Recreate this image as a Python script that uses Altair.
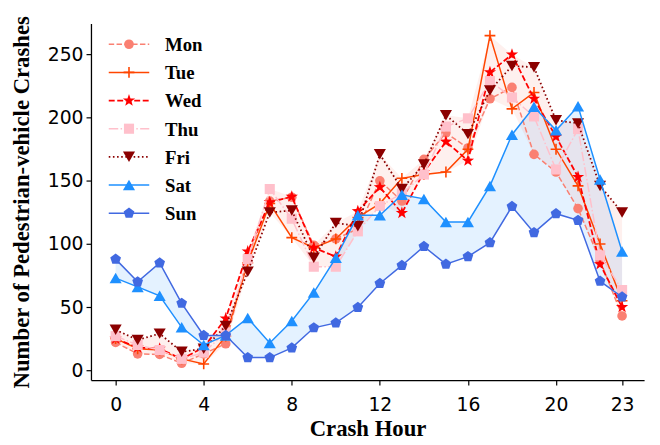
import math
import altair as alt
import pandas as pd

hours = list(range(24))
days = ["Mon", "Tue", "Wed", "Thu", "Fri", "Sat", "Sun"]

mon = [22, 13, 12.5, 5.5, 13, 21, 90, 134, 137, 99, 104, 112, 150, 134, 167, 188, 176, 215, 224, 171, 157, 128, 87, 43]
tue = [25, 17, 16, 9, 5, 27, 85, 132, 105, 97, 104, 121, 132, 152, 155, 157, 175, 265, 207, 220, 175, 146, 100, 55]
wed = [25, 18, 17, 9, 18, 41, 94, 133, 137.5, 97, 90, 126, 145, 124.5, 157, 181, 166, 236, 250, 215, 185, 153, 84, 50]
thu = [27, 20, 16, 9, 14, 30, 88, 143.5, 120, 82, 82, 110, 130, 140, 155, 193, 199.5, 229, 216, 201, 159, 191, 91, 63.5]
fri = [32, 24, 29, 14.6, 17, 35, 78, 125, 126.5, 89, 116.7, 114, 171, 143.5, 163, 202, 187, 221.6, 241, 240, 198, 195.5, 146, 125]
sat = [73, 66, 59, 34, 20, 27.6, 41.4, 21.6, 39, 61.5, 89, 122.7, 122.7, 139, 135.7, 117.4, 117.4, 146, 186.5, 208.6, 190, 209, 151, 94]
sun = [88, 70, 85, 53, 27.6, 27.6, 10, 10, 17.7, 33.6, 37.5, 49.7, 68.7, 83, 98, 84, 90, 101, 129.7, 109, 124, 118.7, 70.5, 58]

x_ticks = [0, 4, 8, 12, 16, 20, 23]
y_ticks = [0, 50, 100, 150, 200, 250]

series = [mon, tue, wed, thu, fri, sat, sun]
colors = ["#FA8072", "#FF4500", "#FF0000", "#FFC0CB", "#8B0000", "#1E90FF", "#4169E1"]


def polygon(n, r_in=None):
    pts = []
    steps = n * 2 if r_in else n
    for k in range(steps):
        r = 1.0 if (k % 2 == 0 or not r_in) else r_in
        a = math.radians(-90 + 360.0 / steps * k)
        pts.append(f"{r * math.cos(a):.3f},{r * math.sin(a):.3f}")
    return "M" + "L".join(pts) + "Z"


star = polygon(5, 0.4)
pentagon = polygon(5)
plus = "M-1,0L1,0M0,-1L0,1"

styles = {
    "Mon": dict(dash=[5.5, 2.4], lw=1.5, shape="circle", size=95, filled=True),
    "Tue": dict(dash=None, lw=1.5, shape=plus, size=120, filled=False),
    "Wed": dict(dash=[6, 2.6], lw=1.8, shape=star, size=170, filled=True),
    "Thu": dict(dash=[9.6, 2.4, 1.5, 2.4], lw=1.5, shape="square", size=105, filled=True),
    "Fri": dict(dash=[1.6, 2.6], lw=1.8, shape="triangle-down", size=150, filled=True),
    "Sat": dict(dash=None, lw=1.5, shape="triangle-up", size=150, filled=True),
    "Sun": dict(dash=None, lw=1.5, shape=pentagon, size=130, filled=True),
}

xs = alt.Scale(domain=[-1.12, 24.0], nice=False, zero=False)
ys = alt.Scale(domain=[-7.8, 274.6], nice=False, zero=False)
xaxis = alt.Axis(values=x_ticks, title="Crash Hour", grid=False, tickSize=5,
                 labelPadding=11, titlePadding=3)
yaxis = alt.Axis(values=y_ticks, title="Number of Pedestrian-vehicle Crashes", grid=False,
                 tickSize=5, labelPadding=3, titlePadding=14)
X = alt.X("h:Q", scale=xs, axis=xaxis)
Y = alt.Y("v:Q", scale=ys, axis=yaxis)

layers = []

weekday = list(zip(mon, tue, wed, thu, fri))
pink_df = pd.DataFrame({"h": hours, "lo": [min(r) for r in weekday], "hi": [max(r) for r in weekday]})
blue_df = pd.DataFrame({"h": hours, "lo": sat, "hi": sun})

layers.append(alt.Chart(blue_df).mark_area(color="#1E90FF", opacity=0.12).encode(
    x=alt.X("h:Q", scale=xs, axis=xaxis), y=alt.Y("lo:Q", scale=ys, axis=yaxis), y2="hi:Q"))
layers.append(alt.Chart(pink_df).mark_area(color="#FA8072", opacity=0.12).encode(
    x=alt.X("h:Q", scale=xs, axis=xaxis), y=alt.Y("lo:Q", scale=ys, axis=yaxis), y2="hi:Q"))

for d, vals, c in zip(days, series, colors):
    s = styles[d]
    df = pd.DataFrame({"h": hours, "v": vals})
    lk = dict(color=c, strokeWidth=s["lw"])
    if s["dash"]:
        lk["strokeDash"] = s["dash"]
    layers.append(alt.Chart(df).mark_line(**lk).encode(x=X, y=Y))
    pk = dict(shape=s["shape"], size=s["size"], opacity=1)
    if s["filled"]:
        pk.update(filled=True, color=c, strokeWidth=0)
    else:
        pk.update(filled=False, color=c, strokeWidth=1.6)
    layers.append(alt.Chart(df).mark_point(**pk).encode(x=X, y=Y))

# legend (top-left, inside plot)
for i, (d, c) in enumerate(zip(days, colors)):
    s = styles[d]
    ry = 21 + 28.5 * i
    ldf = pd.DataFrame({"day": [d]})
    lk = dict(color=c, strokeWidth=s["lw"])
    if s["dash"]:
        lk["strokeDash"] = s["dash"]
    layers.append(alt.Chart(ldf).mark_rule(**lk).encode(
        x=alt.value(18), x2=alt.value(59), y=alt.value(ry)))
    pk = dict(shape=s["shape"], size=s["size"], opacity=1)
    if s["filled"]:
        pk.update(filled=True, color=c, strokeWidth=0)
    else:
        pk.update(filled=False, color=c, strokeWidth=1.6)
    layers.append(alt.Chart(ldf).mark_point(**pk).encode(x=alt.value(38.5), y=alt.value(ry)))
    layers.append(alt.Chart(ldf).mark_text(
        align="left", baseline="middle", font="Liberation Serif", fontWeight="bold",
        fontSize=19, color="black").encode(x=alt.value(75), y=alt.value(ry + 1), text="day:N"))

chart = alt.layer(*layers).properties(
    width=560, height=361,
    autosize=alt.AutoSizeParams(type="none"),
    padding={"left": 84, "top": 13, "right": 8, "bottom": 62},
).configure_view(stroke=None).configure_axis(
    domainColor="black", domainWidth=1.3, tickColor="black", tickWidth=1.2,
    labelFont="DejaVu Sans", labelFontSize=19, labelColor="black",
    titleFont="Liberation Serif", titleFontWeight="bold", titleFontSize=23, titleColor="black",
)

chart.save("out.html", embed_options={"renderer": "svg", "actions": False})
